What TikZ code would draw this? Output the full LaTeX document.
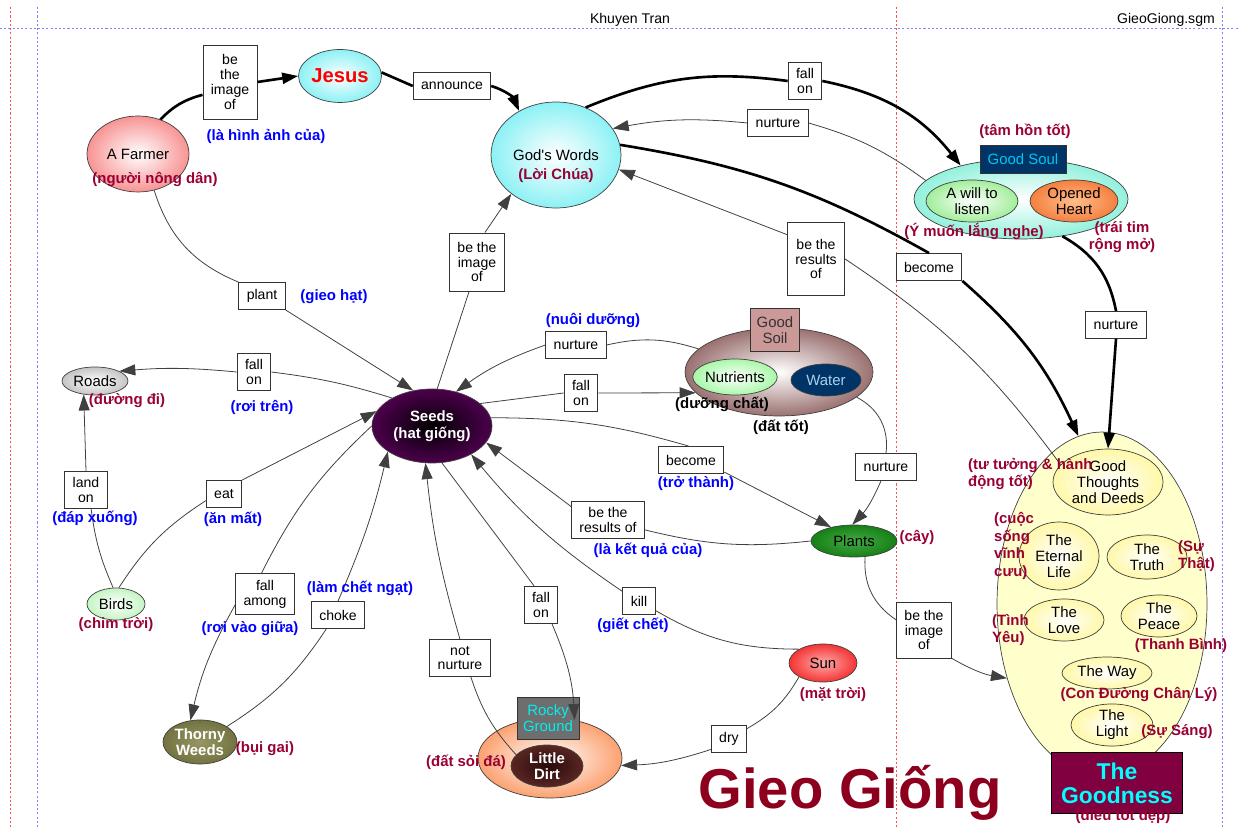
\documentclass[tikz,border=0pt]{standalone}
\usepackage{fontspec}
\setmainfont{Liberation Sans}[Ligatures=TeXOff]
\usetikzlibrary{shapes.geometric,arrows.meta}

\definecolor{vnred}{RGB}{153,0,51}
\definecolor{vnblue}{RGB}{0,0,255}
\definecolor{titlered}{RGB}{140,0,30}
\definecolor{guidered}{RGB}{255,80,80}
\definecolor{guideblue}{RGB}{130,130,255}
\definecolor{farmerred}{RGB}{245,100,100}
\definecolor{skycyan}{RGB}{90,235,240}
\definecolor{soulgreen}{RGB}{100,235,205}
\definecolor{listengreen}{RGB}{120,230,110}
\definecolor{heartlight}{RGB}{255,190,140}
\definecolor{heartorange}{RGB}{240,100,30}
\definecolor{soulnavy}{RGB}{0,51,102}
\definecolor{soulcyan}{RGB}{0,200,240}
\definecolor{goodyellow}{RGB}{255,255,204}
\definecolor{paleyellow}{RGB}{255,245,130}
\definecolor{goodmaroon}{RGB}{128,0,64}
\definecolor{goodcyan}{RGB}{0,255,255}
\definecolor{seedpurple}{RGB}{110,0,110}
\definecolor{roadgray}{RGB}{170,170,170}
\definecolor{birdgreen}{RGB}{170,240,170}
\definecolor{weedlight}{RGB}{150,150,100}
\definecolor{weedolive}{RGB}{100,100,50}
\definecolor{rockorange}{RGB}{250,120,50}
\definecolor{rockgray}{RGB}{110,110,110}
\definecolor{rockcyan}{RGB}{0,240,240}
\definecolor{dirtdark}{RGB}{40,10,10}
\definecolor{dirtbrown}{RGB}{110,50,45}
\definecolor{soilbrown}{RGB}{110,50,50}
\definecolor{soilpink}{RGB}{204,153,153}
\definecolor{nutrigreen}{RGB}{130,245,130}
\definecolor{waterblue}{RGB}{0,51,102}
\definecolor{watertext}{RGB}{170,210,240}
\definecolor{sunlight}{RGB}{255,170,170}
\definecolor{sunred}{RGB}{240,0,0}
\definecolor{plantlight}{RGB}{70,170,70}
\definecolor{plantgreen}{RGB}{0,110,0}

\makeatletter
\pgfdeclareradialshading[tikz@radial@inner,tikz@radial@outer]{soft}{\pgfpointorigin}{%
  color(0bp)=(tikz@radial@inner); color(36bp)=(tikz@radial@outer); color(50bp)=(tikz@radial@outer)}
\makeatother

\begin{document}
\begin{tikzpicture}[x=0.02cm, y=0.02cm,
    every node/.style={font=\fontsize{8}{8.5}\selectfont},
    concept/.style={ellipse, draw=black!75, line width=0.4pt, inner sep=0pt, align=center, font=\fontsize{8.5}{9}\selectfont},
    glow/.style 2 args={inner color=#1, outer color=#2, shading=soft},
    linkbox/.style={draw=black!80, fill=white, line width=0.5pt, inner xsep=4.5pt, inner ysep=3.5pt, minimum height=0.54cm, align=center},
    vnlabel/.style={text=vnred, font=\fontsize{8.5}{10}\selectfont\bfseries, align=center},
    vnlink/.style={text=vnblue, font=\fontsize{8.5}{10}\selectfont\bfseries, align=center},
    vnplain/.style={text=black, font=\fontsize{8.5}{10}\selectfont\bfseries, align=center},
    conn/.style={draw=black!75, line width=0.45pt},
    heavy/.style={draw=black, line width=1.5pt},
    guide/.style={line width=0.5pt, dash pattern=on 1.2pt off 1.2pt},
    >={Triangle[length=3.2mm,width=2.2mm]}]
  \useasboundingbox (0,0) rectangle (1240,828);

  \draw[guide, draw=guideblue] (0,800) -- (1240,800);
  \draw[guide, draw=guidered] (10,821) -- (10,0);
  \draw[guide, draw=guideblue] (37,821) -- (37,0);
  \draw[guide, draw=guidered] (896,821) -- (896,0);
  \draw[guide, draw=guideblue] (1222,821) -- (1222,0);
  \node (author) at (630,808) {Khuyen Tran};
  \node[anchor=east] (file) at (1221,808) {GieoGiong.sgm};

  \node[concept, glow={white}{farmerred}, minimum width=2.04cm, minimum height=1.52cm] (farmer) at (138,674) {A Farmer};
  \node[concept, glow={white}{skycyan}, minimum width=1.66cm, minimum height=1.06cm, text=red, font=\fontsize{11.5}{12}\selectfont\bfseries] (jesus) at (340,752) {Jesus};
  \node[concept, glow={white}{skycyan}, minimum width=2.6cm, minimum height=2.12cm] (words) at (556,673) {God's Words};

  \node[concept, glow={white}{soulgreen}, minimum width=4.28cm, minimum height=1.6cm] (soul) at (1021,629) {};
  \node[concept, glow={white}{listengreen}, minimum width=1.84cm, minimum height=0.84cm] (listen) at (972,627) {A will to\\listen};
  \node[concept, glow={heartlight}{heartorange}, minimum width=1.76cm, minimum height=0.84cm] (heart) at (1074,627) {Opened\\Heart};
  \node[draw=black!80, fill=soulnavy, text=soulcyan, font=\fontsize{8.5}{9}\selectfont, minimum width=1.72cm, minimum height=0.56cm, inner sep=0pt] (soulbox) at (1023,669) {Good Soul};

  \node[concept, fill=goodyellow, minimum width=4.2cm, minimum height=6.88cm] (goodness) at (1102,224) {};
  \node[concept, glow={white}{paleyellow}, minimum width=2.2cm, minimum height=1.32cm] (thoughts) at (1108,346) {Good\\Thoughts\\and Deeds};
  \node[concept, glow={white}{paleyellow}, minimum width=1.6cm, minimum height=1.36cm] (eternal) at (1059,272) {The\\Eternal\\Life};
  \node[concept, glow={white}{paleyellow}, minimum width=1.6cm, minimum height=0.88cm] (truth) at (1147,271) {The\\Truth};
  \node[concept, glow={white}{paleyellow}, minimum width=1.6cm, minimum height=0.84cm] (love) at (1064,208) {The\\Love};
  \node[concept, glow={white}{paleyellow}, minimum width=1.52cm, minimum height=0.84cm] (peace) at (1159,212) {The\\Peace};
  \node[concept, glow={white}{paleyellow}, minimum width=1.8cm, minimum height=0.64cm] (way) at (1107,155) {The Way};
  \node[concept, glow={white}{paleyellow}, minimum width=1.64cm, minimum height=0.84cm] (light) at (1112,103) {The\\Light};
  \node[draw=black, fill=goodmaroon, text=goodcyan, font=\fontsize{13}{13.6}\selectfont\bfseries, align=center, minimum width=2.62cm, minimum height=1.22cm, inner sep=0pt] (goodbox) at (1117,45) {The\\Goodness};

  \node[concept, glow={black}{seedpurple}, minimum width=2.4cm, minimum height=1.48cm, text=white, font=\fontsize{8.5}{9.5}\selectfont\bfseries] (seeds) at (432,402) {Seeds\\(hat giống)};
  \node[concept, glow={white}{roadgray}, minimum width=1.32cm, minimum height=0.56cm] (roads) at (95,447) {Roads};
  \node[concept, glow={white}{birdgreen}, minimum width=1.16cm, minimum height=0.64cm] (birds) at (116,224) {Birds};
  \node[concept, glow={weedlight}{weedolive}, minimum width=1.48cm, minimum height=0.88cm, text=white, font=\fontsize{8.5}{9}\selectfont\bfseries] (thorny) at (200,86) {Thorny\\Weeds};

  \node[concept, glow={white}{rockorange}, minimum width=2.88cm, minimum height=1.6cm] (rocky) at (550,70) {};
  \node[draw=black!80, fill=rockgray, text=rockcyan, minimum width=1.24cm, minimum height=0.84cm, inner sep=0pt, align=center, font=\fontsize{8.5}{9}\selectfont] (rockybox) at (548,110) {Rocky\\Ground};
  \node[concept, glow={dirtdark}{dirtbrown}, minimum width=1.44cm, minimum height=0.84cm, text=white, font=\fontsize{8.5}{9}\selectfont\bfseries] (dirt) at (547,62) {Little\\Dirt};

  \node[concept, glow={white}{soilbrown}, minimum width=3.76cm, minimum height=1.76cm] (soil) at (779,456) {};
  \node[draw=black!80, fill=soilpink, text=black!80, minimum width=0.98cm, minimum height=0.86cm, inner sep=0pt, align=center, font=\fontsize{8.5}{9}\selectfont] (soilbox) at (775,498) {Good\\Soil};
  \node[concept, glow={white}{nutrigreen}, minimum width=1.6cm, minimum height=0.72cm] (nutrients) at (735,451) {Nutrients};
  \node[concept, fill=waterblue, text=watertext, minimum width=1.4cm, minimum height=0.64cm] (water) at (826,448) {Water};

  \node[concept, glow={sunlight}{sunred}, minimum width=1.36cm, minimum height=0.76cm] (sun) at (823,165) {Sun};
  \node[concept, glow={plantlight}{plantgreen}, minimum width=1.72cm, minimum height=0.64cm] (plants) at (854,287) {Plants};

  \node[linkbox, minimum height=1.48cm] (img1) at (230,746) {be\\the\\image\\of};
  \node[linkbox] (announce) at (452,742) {announce};
  \node[linkbox] (fallon1) at (805,747) {fall\\on};
  \node[linkbox] (nurture1) at (778,705) {nurture};
  \node[linkbox] (become1) at (929,561) {become};
  \node[linkbox, minimum height=1.46cm] (results1) at (816,569) {be the\\results\\of};
  \node[linkbox] (nurture2) at (1116,503) {nurture};
  \node[linkbox] (plant) at (262,532) {plant};
  \node[linkbox, minimum height=1.16cm] (img2) at (477,566) {be the\\image\\of};
  \node[linkbox] (nurture3) at (576,483) {nurture};
  \node[linkbox] (fallon2) at (581,435) {fall\\on};
  \node[linkbox] (become2) at (691,368) {become};
  \node[linkbox] (nurture4) at (886,361) {nurture};
  \node[linkbox] (results2) at (608,308) {be the\\results of};
  \node[linkbox, minimum height=1.12cm] (img3) at (924,198) {be the\\image\\of};
  \node[linkbox] (fallon3) at (254,456) {fall\\on};
  \node[linkbox] (landon) at (86,338) {land\\on};
  \node[linkbox] (eat) at (224,334) {eat};
  \node[linkbox] (fallamong) at (265,234) {fall\\among};
  \node[linkbox] (choke) at (338,213) {choke};
  \node[linkbox] (notnurture) at (460,170) {not\\nurture};
  \node[linkbox] (fallon4) at (541,223) {fall\\on};
  \node[linkbox] (kill) at (639,227) {kill};
  \node[linkbox] (dry) at (729,89) {dry};

  \draw[heavy] (farmer.57) to[bend left=15] (img1.205);
  \draw[heavy, ->] (img1.east) -- (jesus.west);
  \draw[heavy] (jesus.5) -- (announce.west);
  \draw[heavy, ->] (announce.east) to[bend left=25] (words.130);
  \draw[heavy] (words.58) to[bend left=15] (fallon1.west);
  \draw[heavy, ->] (fallon1.east) to[bend left=20] (soul.151);
  \draw[conn] (soul.169) to[bend right=10] (nurture1.east);
  \draw[conn, ->] (nurture1.west) to[bend right=8] (words.25);
  \draw[heavy] (words.9) to[bend left=10] (become1.north);
  \draw[heavy, ->] (become1.south east) to[bend left=12] (goodness.98);
  \draw[heavy] (soul.-42) to[bend left=25] (nurture2.north);
  \draw[heavy, ->] (nurture2.south) -- (thoughts.north);
  \draw[conn] (thoughts.160) to[bend right=10] (results1.east);
  \draw[conn, ->] (results1.140) -- (words.-13);
  \draw[conn] (farmer.-66) to[bend right=25] (plant.north west);
  \draw[conn, ->] (plant.south east) -- (seeds.118);
  \draw[conn] (seeds.82) -- (img2.-105);
  \draw[conn, ->] (img2.75) -- (words.221);
  \draw[conn] (soil.164) to[bend right=15] (nurture3.east);
  \draw[conn, ->] (nurture3.west) to[bend right=8] (seeds.55);
  \draw[conn] (seeds.25) -- (fallon2.west);
  \draw[conn, ->] (fallon2.east) -- (soil.194);
  \draw[conn] (seeds.8) to[bend left=8] (become2.100);
  \draw[conn, ->] (become2.-20) -- (plants.149);
  \draw[conn] (soil.-18) to[bend left=35] (nurture4.north);
  \draw[conn, ->] (nurture4.-110) to[bend left=10] (plants.96);
  \draw[conn] (plants.west) to[bend left=10] (results2.-15);
  \draw[conn, ->] (results2.160) -- (seeds.-17);
  \draw[conn] (plants.-55) to[bend right=30] (img3.160);
  \draw[conn, ->] (img3.south east) to[bend right=10] (goodness.218);
  \draw[conn] (seeds.145) to[bend right=5] (fallon3.east);
  \draw[conn, ->] (fallon3.west) to[bend right=5] (roads.22);
  \draw[conn] (birds.100) to[bend left=8] (landon.-75);
  \draw[conn, ->] (landon.north) -- (roads.-130);
  \draw[conn] (birds.80) to[bend left=12] (eat.200);
  \draw[conn, ->] (eat.north east) -- (seeds.165);
  \draw[conn] (seeds.180) to[bend right=10] (fallamong.100);
  \draw[conn, ->] (fallamong.200) to[bend right=8] (thorny.114);
  \draw[conn] (thorny.30) to[bend right=12] (choke.-130);
  \draw[conn, ->] (choke.north) to[bend right=5] (seeds.210);
  \draw[conn] (dirt.160) to[bend left=12] (notnurture.-60);
  \draw[conn, ->] (notnurture.north) to[bend left=5] (seeds.-100);
  \draw[conn] (seeds.-75) -- (fallon4.110);
  \draw[conn, ->] (fallon4.-60) to[bend left=10] (rocky.57);
  \draw[conn] (sun.150) to[bend left=15] (kill.-30);
  \draw[conn, ->] (kill.150) to[bend left=8] (seeds.-36);
  \draw[conn] (sun.210) to[bend left=15] (dry.30);
  \draw[conn, ->] (dry.210) to[bend left=8] (rocky.-6);

  \node[vnlink] (imgvn1) at (266,692) {(là hình ảnh của)};
  \node[vnlabel] (farmervn) at (155,648) {(người nông dân)};
  \node[vnlabel] (wordsvn) at (556,652) {(Lời Chúa)};
  \node[vnlabel] (soulvn) at (1025,697) {(tâm hồn tốt)};
  \node[vnlabel] (listenvn) at (974,597) {(Ý muốn lắng nghe)};
  \node[vnlabel] (heartvn) at (1122,591) {(trái tim\\rộng mở)};
  \node[vnlabel, align=left, anchor=west] (thoughtsvn) at (962,354) {(tư tưởng \& hành\\động tốt)};
  \node[vnlabel, align=left, anchor=west] (eternalvn) at (988,282) {(cuộc\\sống\\vĩnh\\cưu)};
  \node[vnlabel, align=left, anchor=west] (truthvn) at (1172,272) {(Sự\\Thật)};
  \node[vnlabel, align=left, anchor=west] (lovevn) at (986,198) {(Tình\\Yêu)};
  \node[vnlabel] (peacevn) at (1181,182) {(Thanh Bình)};
  \node[vnlabel] (wayvn) at (1139,133) {(Con Đường Chân Lý)};
  \node[vnlabel] (lightvn) at (1177,96) {(Sự Sáng)};
  \node[vnlabel] (goodvn) at (1123,12) {(điều tốt đẹp)};
  \node[vnlink] (plantvn) at (334,531) {(gieo hạt)};
  \node[vnlabel] (roadsvn) at (127,427) {(đường đi)};
  \node[vnlink] (fallon3vn) at (262,421) {(rơi trên)};
  \node[vnlink] (landonvn) at (95,310) {(đáp xuống)};
  \node[vnlink] (eatvn) at (233,309) {(ăn mất)};
  \node[vnlabel] (birdsvn) at (116,203) {(chim trời)};
  \node[vnlink] (fallamongvn) at (250,199) {(rơi vào giữa)};
  \node[vnlink] (chokevn) at (360,240) {(làm chết ngạt)};
  \node[vnlabel] (thornyvn) at (265,79) {(bụi gai)};
  \node[vnlabel] (rockyvn) at (466,66) {(đất sỏi đá)};
  \node[vnlink] (killvn) at (633,203) {(giết chết)};
  \node[vnlabel] (sunvn) at (833,133) {(mặt trời)};
  \node[vnlink] (nurture3vn) at (593,507) {(nuôi dưỡng)};
  \node[vnplain] (nutrientsvn) at (722,424) {(dưỡng chất)};
  \node[vnplain] (soilvn) at (781,401) {(đất tốt)};
  \node[vnlink] (become2vn) at (696,345) {(trở thành)};
  \node[vnlink] (results2vn) at (648,278) {(là kết quả của)};
  \node[vnlabel] (plantsvn) at (917,291) {(cây)};
  \node[anchor=base, text=titlered, font=\fontsize{32}{34}\selectfont\bfseries] (title) at (850,20) {Gieo Giống};
\end{tikzpicture}
\end{document}
